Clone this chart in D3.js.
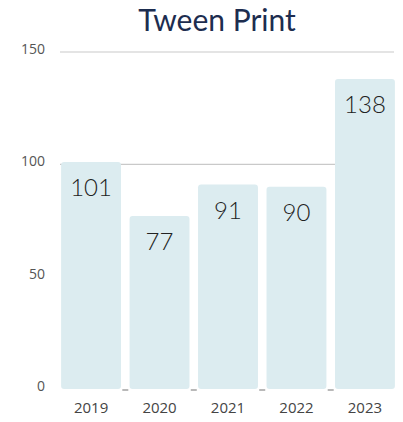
<!DOCTYPE html>
<html>
<head>
<meta charset="utf-8">
<script src="https://cdn.jsdelivr.net/npm/d3@7"></script>
<style>
  html, body { margin: 0; padding: 0; background: #ffffff; }
  svg { display: block; }
</style>
</head>
<body>
<div id="chart"></div>
<script>
// Tween Print sales by year
const years = ["2019", "2020", "2021", "2022", "2023"];
const values = [101, 77, 91, 90, 138];
const yTicks = [0, 50, 100, 150];
const gridTicks = [100, 150];
const title = "Tween Print";

const W = 403, H = 422;
const svg = d3.select("#chart").append("svg")
  .attr("width", W).attr("height", H);

const x = d3.scaleBand()
  .domain(years)
  .range([57, 399])
  .paddingInner(0.125)
  .paddingOuter(0.06);

const y = d3.scaleLinear()
  .domain([0, 150])
  .range([389, 52]);

// title
svg.append("text")
  .attr("x", 217).attr("y", 31)
  .attr("text-anchor", "middle")
  .attr("font-family", "Lato, sans-serif")
  .attr("font-size", 30)
  .attr("fill", "#1d2d4f")
  .text(title);

// horizontal grid lines (behind bars)
svg.append("g")
  .selectAll("line")
  .data(gridTicks)
  .join("line")
  .attr("x1", 60).attr("x2", 394)
  .attr("y1", d => y(d)).attr("y2", d => y(d))
  .attr("stroke", "#c9c9c9")
  .attr("stroke-width", 1.2);

// y axis tick labels
const yAxis = d3.axisLeft(y).tickValues(yTicks).tickSize(0).tickPadding(0);
const gy = svg.append("g").attr("transform", "translate(45,0)").call(yAxis);
gy.select(".domain").remove();
gy.selectAll("text")
  .attr("font-family", "'Open Sans', sans-serif")
  .attr("font-size", 14)
  .attr("fill", "#555")
  .attr("dy", "0.1em");

// bars
svg.append("g")
  .selectAll("rect")
  .data(values)
  .join("rect")
  .attr("x", (d, i) => x(years[i]))
  .attr("y", d => y(d))
  .attr("width", x.bandwidth())
  .attr("height", d => y(0) - y(d))
  .attr("rx", 3)
  .attr("fill", "#dcecf0");

// small separators between bars at the baseline
svg.append("g")
  .selectAll("line")
  .data(years.slice(1))
  .join("line")
  .attr("x1", d => x(d) - x.step() * x.paddingInner() / 2 - 3)
  .attr("x2", d => x(d) - x.step() * x.paddingInner() / 2 + 3)
  .attr("y1", y(0) + 1).attr("y2", y(0) + 1)
  .attr("stroke", "#8a8a8a")
  .attr("stroke-width", 1.2);

// value labels inside bars
svg.append("g")
  .selectAll("text")
  .data(values)
  .join("text")
  .attr("x", (d, i) => x(years[i]) + x.bandwidth() / 2)
  .attr("y", d => y(d) + 34)
  .attr("text-anchor", "middle")
  .attr("font-family", "Lato, sans-serif")
  .attr("font-weight", 300)
  .attr("font-size", 24)
  .attr("fill", "#222")
  .text(d => d);

// x axis labels
const xAxis = d3.axisBottom(x).tickSize(0).tickPadding(0);
const gx = svg.append("g").attr("transform", "translate(0,402)").call(xAxis);
gx.select(".domain").remove();
gx.selectAll("text")
  .attr("font-family", "'Open Sans', sans-serif")
  .attr("font-size", 15)
  .attr("fill", "#444");
</script>
</body>
</html>
